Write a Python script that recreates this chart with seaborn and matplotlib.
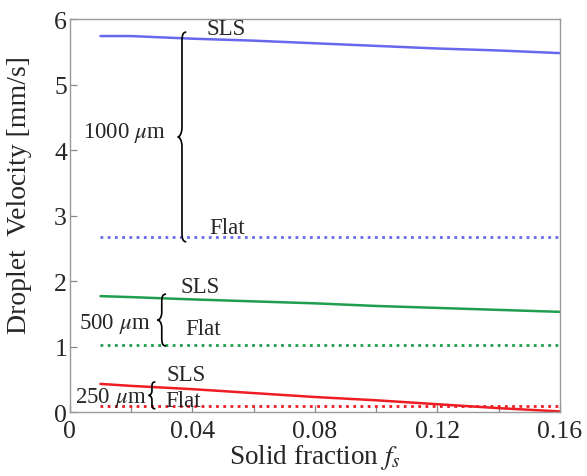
import numpy as np
import pandas as pd
import matplotlib
matplotlib.use("Agg")
import matplotlib.pyplot as plt
from matplotlib.path import Path
from matplotlib.patches import PathPatch
import seaborn as sns

# ---- data ----
fs = [0.01, 0.02, 0.04, 0.06, 0.08, 0.10, 0.12, 0.14, 0.16]
sls_1000 = [5.74, 5.74, 5.70, 5.67, 5.63, 5.59, 5.55, 5.52, 5.48]
sls_500 = [1.77, 1.755, 1.72, 1.69, 1.66, 1.62, 1.59, 1.56, 1.53]
sls_250 = [0.43, 0.40, 0.35, 0.29, 0.23, 0.18, 0.12, 0.06, 0.01]
flat_1000 = 2.67
flat_500 = 1.03
flat_250 = 0.10
sizes = ["1000", "500", "250"]
xticks = [0, 0.04, 0.08, 0.12, 0.16]
xtick_labels = ["0", "0.04", "0.08", "0.12", "0.16"]
yticks = [0, 1, 2, 3, 4, 5, 6]

colors = {"1000": "#6868ee", "500": "#1f9e4f", "250": "#ee1d24"}

sns.set_theme(style="white")
plt.rcParams["font.family"] = ["Liberation Serif", "DejaVu Serif"]
plt.rcParams["mathtext.fontset"] = "stix"

fig = plt.figure(figsize=(5.87, 4.77), dpi=100)
ax = fig.add_axes([0.119, 0.134, 0.835, 0.824])

sls = {"1000": sls_1000, "500": sls_500, "250": sls_250}
flat = {"1000": flat_1000, "500": flat_500, "250": flat_250}

for s in sizes:
    df = pd.DataFrame({"fs": fs, "v": sls[s]})
    sns.lineplot(data=df, x="fs", y="v", ax=ax, color=colors[s], lw=1.8)
    dff = pd.DataFrame({"fs": [fs[0], fs[-1]], "v": [flat[s], flat[s]]})
    sns.lineplot(data=dff, x="fs", y="v", ax=ax, color=colors[s], lw=2.0,
                 linestyle=(0, (1, 1.6)))


def brace(ax, x0, ybot, ytop, w=0.0014, r=0.15):
    r = min(r, (ytop - ybot) / 4.0)
    ym = (ybot + ytop) / 2.0
    verts = [
        (x0 + w, ytop),
        (x0 + 0.2 * w, ytop), (x0, ytop - 0.3 * r), (x0, ytop - r),
        (x0, ym + r),
        (x0, ym + 0.3 * r), (x0 - 0.6 * w, ym), (x0 - w, ym),
        (x0 - 0.6 * w, ym), (x0, ym - 0.3 * r), (x0, ym - r),
        (x0, ybot + r),
        (x0, ybot + 0.3 * r), (x0 + 0.2 * w, ybot), (x0 + w, ybot),
    ]
    codes = [Path.MOVETO, Path.CURVE4, Path.CURVE4, Path.CURVE4, Path.LINETO,
             Path.CURVE4, Path.CURVE4, Path.CURVE4,
             Path.CURVE4, Path.CURVE4, Path.CURVE4, Path.LINETO,
             Path.CURVE4, Path.CURVE4, Path.CURVE4]
    ax.add_patch(PathPatch(Path(verts, codes), fill=False, lw=1.2,
                           edgecolor="black", zorder=5))


brace(ax, 0.0366, flat_1000 - 0.07, sls_1000[2] + 0.10)
brace(ax, 0.0300, flat_500 - 0.02, sls_500[2] + 0.08, r=0.12)
brace(ax, 0.0268, flat_250 - 0.05, sls_250[2] + 0.11, w=0.0011, r=0.07)

tfs = 16.5
ax.text(0.0312, 4.27, "1000 $\\mu$m", ha="right", va="center", fontsize=tfs)
ax.text(0.0447, 5.85, "SLS", ha="left", va="center", fontsize=tfs)
ax.text(0.0454, 2.82, "Flat", ha="left", va="center", fontsize=tfs)

ax.text(0.0262, 1.36, "500 $\\mu$m", ha="right", va="center", fontsize=tfs)
ax.text(0.0362, 1.92, "SLS", ha="left", va="center", fontsize=tfs)
ax.text(0.0376, 1.27, "Flat", ha="left", va="center", fontsize=tfs)

ax.text(0.0250, 0.23, "250 $\\mu$m", ha="right", va="center", fontsize=tfs)
ax.text(0.0314, 0.58, "SLS", ha="left", va="center", fontsize=tfs)
ax.text(0.0310, 0.18, "Flat", ha="left", va="center", fontsize=tfs)

ax.set_xlim(0, 0.16)
ax.set_ylim(0, 6)
ax.set_xticks(xticks)
ax.set_xticklabels(xtick_labels)
ax.set_xticks(np.arange(0.02, 0.16, 0.04), minor=True)
ax.set_yticks(yticks)
ax.tick_params(axis="both", which="both", direction="in", length=5,
               color="#888888", width=0.9, labelsize=18.5, pad=2,
               bottom=True, left=True, top=False, right=False)
ax.tick_params(axis="x", pad=6)
for sp in ax.spines.values():
    sp.set_color("#999999")
    sp.set_linewidth(1.0)

ax.set_xlabel("Solid fraction $f_s$", fontsize=19.5, labelpad=0)
ax.set_ylabel("Droplet  Velocity [mm/s]", fontsize=20)
ax.yaxis.set_label_coords(-0.078, 0.555)

fig.savefig("out.png", dpi=100)
